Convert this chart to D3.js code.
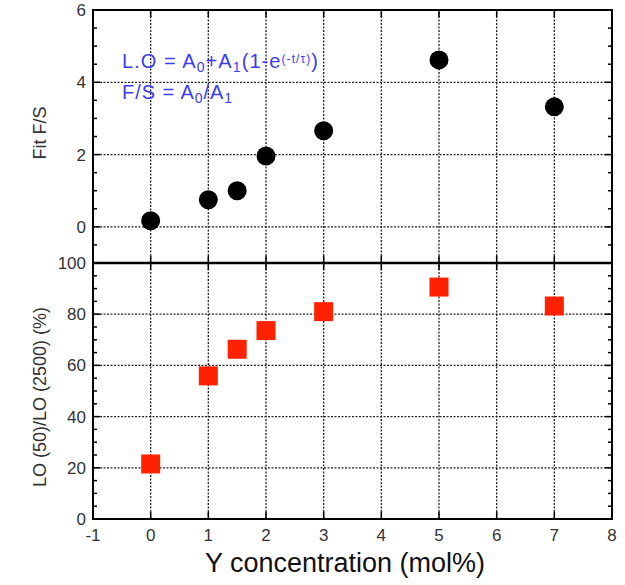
<!DOCTYPE html>
<html><head><meta charset="utf-8">
<script src="https://cdn.jsdelivr.net/npm/d3@7"></script>
<style>body{margin:0;background:#fff}svg{display:block}text{font-family:Arial,"Liberation Sans",sans-serif}</style>
</head><body>
<svg id="c" width="625" height="585"></svg>
<script>
const concentration = [0, 1, 1.5, 2, 3, 5, 7];
const fitFS = [0.17, 0.75, 1.0, 1.96, 2.66, 4.62, 3.32];
const loRatio = [21.5, 55.9, 66.3, 73.6, 81.0, 90.6, 83.2];
const xTicks = [-1, 0, 1, 2, 3, 4, 5, 6, 7, 8];
const topTicks = [0, 2, 4, 6];
const botTicks = [0, 20, 40, 60, 80, 100];

const svg = d3.select("#c");
const L = 93, R = 612, T = 10, M = 263, B = 519;
const x = d3.scaleLinear().domain([-1, 8]).range([L, R]);
const yT = d3.scaleLinear().domain([-1, 6]).range([M, T]);
const yB = d3.scaleLinear().domain([0, 100]).range([B, M]);

function grid(y, yTicks, y0, y1) {
  const g = svg.append("g");
  g.selectAll(".vx").data(xTicks.slice(1, -1)).join("line")
    .attr("x1", d => x(d)).attr("x2", d => x(d)).attr("y1", y0).attr("y2", y1)
    .attr("stroke", "#222").attr("stroke-width", 1.3).attr("stroke-dasharray", "2,1.5");
  g.selectAll(".hy").data(yTicks).join("line")
    .attr("x1", L).attr("x2", R).attr("y1", d => y(d)).attr("y2", d => y(d))
    .attr("stroke", "#222").attr("stroke-width", 1.3).attr("stroke-dasharray", "2,1.5");
}
grid(yT, [0, 2, 4], M, T);
grid(yB, [20, 40, 60, 80], B, M);

function ticks(y, major, minor, y0, y1) {
  const g = svg.append("g").attr("stroke", "#000");
  minor.forEach(v => {
    const isMaj = major.includes(v);
    const len = isMaj ? 7 : 4;
    g.append("line").attr("x1", L).attr("x2", L + len).attr("y1", y(v)).attr("y2", y(v)).attr("stroke-width", 1.5);
    g.append("line").attr("x1", R).attr("x2", R - len).attr("y1", y(v)).attr("y2", y(v)).attr("stroke-width", 1.5);
  });
  xTicks.forEach(v => {
    g.append("line").attr("x1", x(v)).attr("x2", x(v)).attr("y1", y0).attr("y2", y0 - 7).attr("stroke-width", 1.5);
    g.append("line").attr("x1", x(v)).attr("x2", x(v)).attr("y1", y1).attr("y2", y1 + 7).attr("stroke-width", 1.5);
  });
}
ticks(yT, topTicks, d3.range(-1, 6.01, 0.5), M, T);
ticks(yB, botTicks, d3.range(0, 100.1, 5), B, M);

svg.append("rect").attr("x", L).attr("y", T).attr("width", R - L).attr("height", B - T)
  .attr("fill", "none").attr("stroke", "#000").attr("stroke-width", 2);
svg.append("line").attr("x1", L).attr("x2", R).attr("y1", M).attr("y2", M)
  .attr("stroke", "#000").attr("stroke-width", 2.5);

const lblCol = "#333";
svg.selectAll(".tl").data(topTicks).join("text")
  .attr("x", L - 7).attr("y", d => yT(d) + 6).attr("text-anchor", "end")
  .attr("font-size", 17).attr("fill", lblCol).text(d => d);
svg.selectAll(".bl").data(botTicks).join("text")
  .attr("x", L - 7).attr("y", d => yB(d) + 6).attr("text-anchor", "end")
  .attr("font-size", 17).attr("fill", lblCol).text(d => d);
svg.selectAll(".xl").data(xTicks).join("text")
  .attr("x", d => x(d)).attr("y", B + 22).attr("text-anchor", "middle")
  .attr("font-size", 17).attr("fill", lblCol).text(d => d);

svg.append("text").attr("transform", `translate(46,133) rotate(-90)`)
  .attr("text-anchor", "middle").attr("font-size", 18).attr("fill", lblCol).text("Fit F/S");
svg.append("text").attr("transform", `translate(46,397) rotate(-90)`)
  .attr("text-anchor", "middle").attr("font-size", 18).attr("fill", lblCol).text("LO (50)/LO (2500) (%)");
svg.append("text").attr("x", 345).attr("y", 572).attr("text-anchor", "middle")
  .attr("font-size", 27).attr("fill", "#111").text("Y concentration (mol%)");

const blue = "#3c3cf0";
const a1 = svg.append("text").attr("x", 122).attr("y", 68).attr("font-size", 20).attr("fill", blue)
  .attr("textLength", 196).attr("lengthAdjust", "spacing");
a1.append("tspan").text("L.O = A");
a1.append("tspan").attr("baseline-shift", "-25%").attr("font-size", 14).text("0");
a1.append("tspan").text("+A");
a1.append("tspan").attr("baseline-shift", "-25%").attr("font-size", 14).text("1");
a1.append("tspan").text("(1-e");
a1.append("tspan").attr("baseline-shift", "45%").attr("font-size", 12).text("(-t/τ)");
a1.append("tspan").text(")");
const a2 = svg.append("text").attr("x", 122).attr("y", 99).attr("font-size", 20).attr("fill", blue)
  .attr("textLength", 110).attr("lengthAdjust", "spacing");
a2.append("tspan").text("F/S = A");
a2.append("tspan").attr("baseline-shift", "-25%").attr("font-size", 14).text("0");
a2.append("tspan").text("/A");
a2.append("tspan").attr("baseline-shift", "-25%").attr("font-size", 14).text("1");

svg.selectAll(".pt").data(concentration).join("circle")
  .attr("cx", d => x(d)).attr("cy", (d, i) => yT(fitFS[i])).attr("r", 9.5).attr("fill", "#000");
const s = 19;
svg.selectAll(".sq").data(concentration).join("rect")
  .attr("x", d => x(d) - s / 2).attr("y", (d, i) => yB(loRatio[i]) - s / 2)
  .attr("width", s).attr("height", s).attr("fill", "#ff2200");
</script>
</body></html>
